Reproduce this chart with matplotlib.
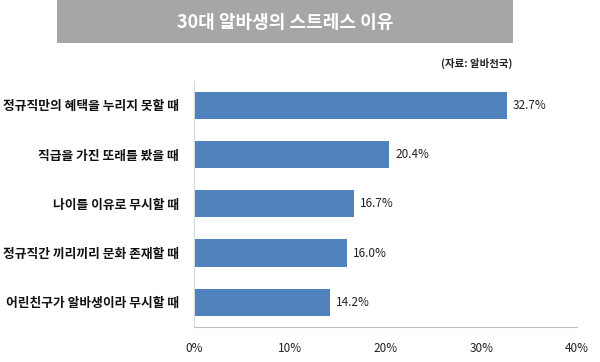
import matplotlib
matplotlib.use('Agg')
import matplotlib.pyplot as plt
from matplotlib.patches import Rectangle

plt.rcParams['font.family'] = ['Noto Sans CJK KR', 'DejaVu Sans']

categories = ['정규직만의 혜택을 누리지 못할 때', '직급을 가진 또래를 봤을 때', '나이를 이유로 무시할 때',
              '정규직간 끼리끼리 문화 존재할 때', '어린친구가 알바생이라 무시할 때']
values = [32.7, 20.4, 16.7, 16.0, 14.2]
ticks = [0, 10, 20, 30, 40]
title = '30대 알바생의 스트레스 이유'
source = '(자료: 알바천국)'

fig = plt.figure(figsize=(6, 3.62), dpi=100)
fig.patch.set_facecolor('white')

# 제목 배너
fig.patches.append(Rectangle((57 / 600, 1 - 43 / 362), 456 / 600, 43 / 362,
                             transform=fig.transFigure, facecolor='#a6a6a6', edgecolor='none'))
fig.text(285 / 600, 1 - 22 / 362, title, ha='center', va='center', color='white',
         fontsize=13, fontweight='bold')
fig.text(512 / 600, 1 - 63 / 362, source, ha='right', va='center', color='#222222',
         fontsize=7.5, fontweight='bold')

ax = fig.add_axes([194 / 600, 35 / 362, 383 / 600, 246.5 / 362])
y = list(range(len(categories)))[::-1]
ax.barh(y, values, height=0.55, color='#4f81bd')
for yi, v in zip(y, values):
    ax.text(v + 0.6, yi, f'{v:.1f}%', va='center', ha='left', fontsize=8.5, color='#222222')

ax.set_xlim(0, 40)
ax.set_ylim(-0.5, len(categories) - 0.5)
ax.set_xticks(ticks)
ax.set_xticklabels([f'{t}%' for t in ticks], fontsize=8.5, color='#222222')
ax.set_yticks(y)
ax.set_yticklabels(categories, fontsize=9.2, color='#111111', fontweight='bold')
ax.tick_params(axis='both', length=0)
ax.tick_params(axis='x', pad=11)
ax.tick_params(axis='y', pad=11)
for s in ['top', 'right']:
    ax.spines[s].set_visible(False)
ax.spines['left'].set_color('#d9d9d9')
ax.spines['bottom'].set_color('#bfbfbf')

fig.savefig('out.png', dpi=100)
